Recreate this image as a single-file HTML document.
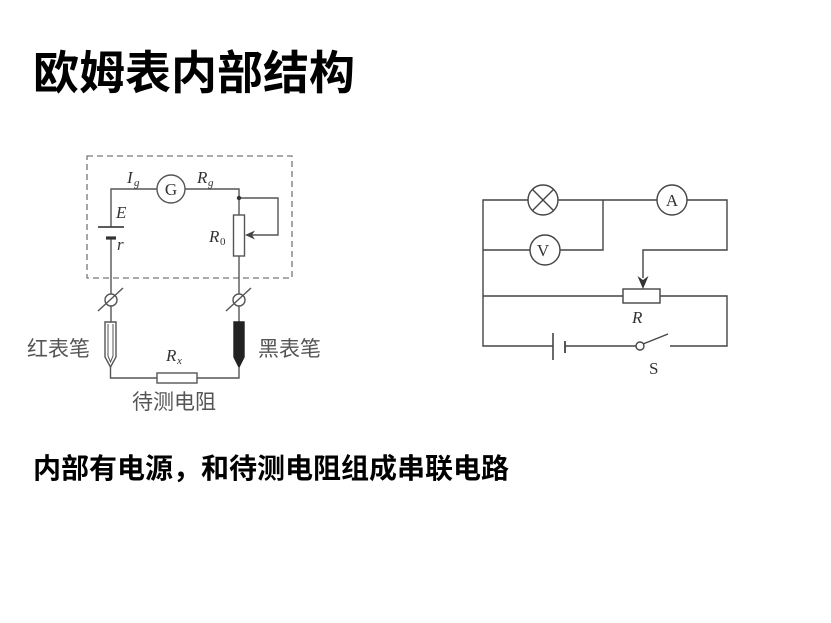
<!DOCTYPE html>
<html>
<head>
<meta charset="utf-8">
<style>
html,body{margin:0;padding:0;background:#fff;}
body{width:831px;height:623px;overflow:hidden;position:relative;}
svg{position:absolute;left:0;top:0;}
.t{font-family:"Liberation Sans","Noto Sans CJK SC",sans-serif;font-weight:bold;fill:#000;}
.cn{font-family:"Liberation Sans","Noto Sans CJK SC",sans-serif;fill:#555;}
.m{font-family:"Liberation Serif",serif;font-style:italic;fill:#333;}
.u{font-family:"Liberation Serif",serif;fill:#333;}
</style>
</head>
<body>
<svg width="831" height="623" viewBox="0 0 831 623" xmlns="http://www.w3.org/2000/svg">
  <text class="t" x="33" y="89" font-size="46">欧姆表内部结构</text>
  <text class="t" x="33" y="478" font-size="28">内部有电源，和待测电阻组成串联电路</text>

  <!-- LEFT DIAGRAM -->
  <g fill="none" stroke="#555" stroke-width="1.4">
    <rect x="87" y="156" width="205" height="122" stroke="#777" stroke-dasharray="6 4" stroke-width="1.3"/>
    <path d="M111,227 V189 H157"/>
    <circle cx="171" cy="189" r="14"/>
    <path d="M185,189 H239 V215"/>
    <rect x="233.5" y="215" width="11" height="41"/>
    <path d="M239,198 H278 V235 H252"/>
    <path d="M111,238 V294"/>
    <circle cx="111" cy="300" r="6"/>
    <path d="M111,306 V322"/>
    <path d="M98,311 L123,288"/>
    <path d="M239,256 V294"/>
    <circle cx="239" cy="300" r="6"/>
    <path d="M239,306 V322"/>
    <path d="M226,311 L251,288"/>
    <polygon points="105,322 116,322 116,357 110.5,367 105,357" fill="#fff"/>
    <polyline points="108,324 108,356 110.5,362 113,356 113,324" stroke-width="1"/>
    <polygon points="234,322 244,322 244,357 239,367 234,357" fill="#222" stroke="#222"/>
    <path d="M110.5,367 V378 H157"/>
    <rect x="157" y="373" width="40" height="10"/>
    <path d="M197,378 H239 V367"/>
  </g>
  <line x1="98" y1="227" x2="124" y2="227" stroke="#444" stroke-width="1.8"/>
  <line x1="106" y1="238" x2="116" y2="238" stroke="#333" stroke-width="3.2"/>
  <circle cx="239" cy="198" r="2.2" fill="#333"/>
  <polygon points="245,235 255,230.5 252,235 255,239.5" fill="#444"/>
  <text class="u" x="171" y="195" font-size="17" text-anchor="middle">G</text>
  <text class="m" x="127" y="183" font-size="17">I</text>
  <text class="m" x="134" y="186" font-size="11">g</text>
  <text class="m" x="197" y="183" font-size="17">R</text>
  <text class="m" x="208" y="186" font-size="11">g</text>
  <text class="m" x="116" y="218" font-size="17">E</text>
  <text class="m" x="117" y="250" font-size="17">r</text>
  <text class="m" x="209" y="242" font-size="17">R</text>
  <text class="u" x="220" y="245" font-size="11">0</text>
  <text class="m" x="166" y="361" font-size="17">R</text>
  <text class="m" x="177" y="364" font-size="11">x</text>
  <text class="cn" x="27" y="356" font-size="21">红表笔</text>
  <text class="cn" x="258" y="356" font-size="21">黑表笔</text>
  <text class="cn" x="132" y="409" font-size="21">待测电阻</text>

  <!-- RIGHT DIAGRAM -->
  <g fill="none" stroke="#444" stroke-width="1.4">
    <path d="M528,200 H483 V346 H553"/>
    <circle cx="543" cy="200" r="15"/>
    <path d="M532.4,189.4 L553.6,210.6 M553.6,189.4 L532.4,210.6"/>
    <path d="M558,200 H657"/>
    <circle cx="672" cy="200" r="15"/>
    <path d="M687,200 H727 V250 H643 V278"/>
    <path d="M603,200 V250 H560"/>
    <circle cx="545" cy="250" r="15"/>
    <path d="M530,250 H483"/>
    <path d="M483,296 H623"/>
    <rect x="623" y="289" width="37" height="14"/>
    <path d="M660,296 H727 V346 H670"/>
    <path d="M565,346 H636"/>
    <circle cx="640" cy="346" r="4" fill="#fff"/>
    <path d="M643,344 L668,334"/>
  </g>
  <line x1="553" y1="333" x2="553" y2="360" stroke="#444" stroke-width="1.6"/>
  <line x1="565" y1="341" x2="565" y2="353" stroke="#444" stroke-width="1.8"/>
  <polygon points="643,289 637.5,276 643,280 648.5,276" fill="#333"/>
  <text class="u" x="543" y="256" font-size="17" text-anchor="middle">V</text>
  <text class="u" x="672" y="206" font-size="17" text-anchor="middle">A</text>
  <text class="m" x="632" y="323" font-size="17">R</text>
  <text class="u" x="649" y="374" font-size="17">S</text>
</svg>
</body>
</html>
